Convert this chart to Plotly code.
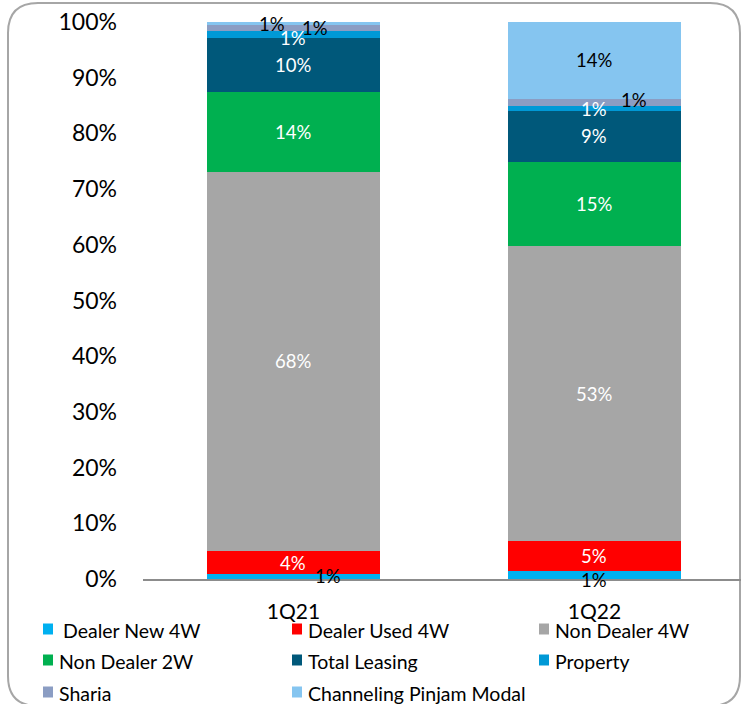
import plotly.graph_objects as go

# Portfolio mix by segment, % of total
quarters = ["1Q21", "1Q22"]
segments = ["Dealer New 4W", "Dealer Used 4W", "Non Dealer 4W", "Non Dealer 2W",
            "Total Leasing", "Property", "Sharia", "Channeling Pinjam Modal"]
dealer_new_4w = [0.9, 1.4]
dealer_used_4w = [4.1, 5.4]
non_dealer_4w = [68.1, 53.0]
non_dealer_2w = [14.3, 15.1]
total_leasing = [9.7, 9.1]
property_ = [1.3, 0.9]
sharia = [1.0, 1.3]
channeling = [0.6, 13.8]

series = [dealer_new_4w, dealer_used_4w, non_dealer_4w, non_dealer_2w,
          total_leasing, property_, sharia, channeling]
colors = ["#00B0F0", "#FF0000", "#A6A6A6", "#00B050",
          "#00587A", "#0099D6", "#8B9DC3", "#85C5F0"]
# label colour per segment, and small nudges (px) for crowded labels
label_colors = ["black", "white", "white", "white", "white", "white", "black", "black"]
label_shift = {
    (0, 0): (35, 0), (0, 1): (0, -5),
    (5, 0): (0, -3),
    (6, 0): (22, 0), (6, 1): (40, 2),
    (7, 0): (-21, 0),
}

W, H = 741, 704
L, R, T, B = 143, 0, 22, 125
FONT = "Lato"

# pixel -> paper helpers (plot area is fixed by the margins above)
pw, ph = W - L - R, H - T - B
def px(x):
    return (x - L) / pw
def py(y):
    return (H - B - y) / ph

fig = go.Figure()
for i, (name, vals) in enumerate(zip(segments, series)):
    fig.add_trace(go.Bar(
        x=quarters, y=vals, name=name,
        marker=dict(color=colors[i], line=dict(width=0)),
        width=0.575, showlegend=False,
    ))

# value labels
for qi, q in enumerate(quarters):
    base = 0
    for i, vals in enumerate(series):
        v = vals[qi]
        dx, dy = label_shift.get((i, qi), (0, 0))
        fig.add_annotation(
            x=q, y=base + v / 2, text=f"{v:.0f}%", showarrow=False,
            xshift=dx, yshift=dy,
            font=dict(family=FONT, size=18.5, color=label_colors[i]),
        )
        base += v

# legend, laid out like the Excel one: 3 columns, rows 31px apart
col_x = [43, 292, 539]
row_y = [629, 660, 692]
for i, name in enumerate(segments):
    cx, cy = col_x[i % 3], row_y[i // 3]
    fig.add_shape(type="rect", xref="paper", yref="paper",
                  x0=px(cx), x1=px(cx + 10), y0=py(cy - 5.5), y1=py(cy + 5.5),
                  fillcolor=colors[i], line=dict(width=0))
    fig.add_annotation(
        xref="paper", yref="paper", x=px(cx + 14 + (4 if i == 0 else 0)), y=py(cy + 1),
        xanchor="left", yanchor="middle", text=name, showarrow=False,
        font=dict(family=FONT, size=19.5, color="black"),
    )

# rounded frame around the whole chart
x0, x1, y0, y1, r = 8, 740, 3, 706, 30
path = (f"M {px(x0 + r)},{py(y0)} L {px(x1 - r)},{py(y0)} "
        f"Q {px(x1)},{py(y0)} {px(x1)},{py(y0 + r)} L {px(x1)},{py(y1 - r)} "
        f"Q {px(x1)},{py(y1)} {px(x1 - r)},{py(y1)} L {px(x0 + r)},{py(y1)} "
        f"Q {px(x0)},{py(y1)} {px(x0)},{py(y1 - r)} L {px(x0)},{py(y0 + r)} "
        f"Q {px(x0)},{py(y0)} {px(x0 + r)},{py(y0)} Z")
fig.add_shape(type="path", path=path, xref="paper", yref="paper",
              line=dict(color="#A6A6A6", width=2), layer="below")

fig.update_layout(
    width=W, height=H,
    margin=dict(l=L, r=R, t=T, b=B),
    barmode="stack",
    plot_bgcolor="white", paper_bgcolor="white",
    font=dict(family=FONT, size=20, color="black"),
    showlegend=False,
    xaxis=dict(
        range=[-0.5, 1.487],
        showline=True, linecolor="#8C8C8C", linewidth=2,
        ticks="", ticklabelstandoff=13, showgrid=False,
        tickfont=dict(size=21),
    ),
    yaxis=dict(
        range=[0, 100], dtick=10, ticksuffix="%", showgrid=False,
        zeroline=False, showline=False, ticks="", ticklabelstandoff=25,
        tickfont=dict(size=23),
    ),
)

fig.write_html("out.html", config={"displayModeBar": False},
               post_script="document.body.style.margin='0';")
